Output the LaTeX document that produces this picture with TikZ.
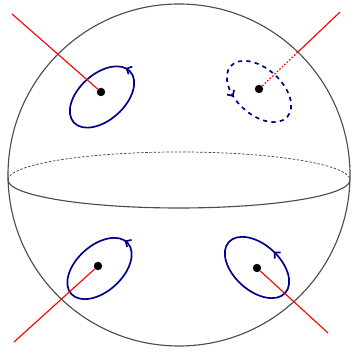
\documentclass[tikz,border=0pt]{standalone}
\usepackage{tikz}
\usetikzlibrary{arrows.meta,decorations.markings,calc}
\definecolor{loopblue}{RGB}{0,0,140}
\begin{document}
\begin{tikzpicture}[x=0.025cm, y=0.025cm,
  sphere/.style={draw=black!70, line width=0.8pt},
  backline/.style={draw=black!75, line width=0.5pt, dash pattern=on 1.8pt off 1.2pt},
  dot/.style={circle, fill=black, inner sep=0pt, minimum size=0.21cm},
  ray/.style={draw=red, line width=0.8pt},
  hiddenray/.style={ray, dash pattern=on 1.2pt off 1.2pt},
  loop/.style={color=loopblue, line width=1.2pt},
  marked/.style={postaction={decorate}, decoration={markings,
      mark=at position #1 with {\arrow{Straight Barb[length=3pt,width=6pt]}}}},
]
  \useasboundingbox (0,0) rectangle (354,352);
  %% sphere with its equator
  \coordinate (sc) at (179,177);
  \coordinate (eqw) at (8,172);
  \draw[sphere] (sc) circle [radius=171];
  \draw[backline] (eqw) arc [start angle=180, end angle=0, x radius=171, y radius=28];
  \draw[sphere] (eqw) arc [start angle=180, end angle=360, x radius=171, y radius=28];
  %% loop centres
  \coordinate (tlc) at (102,255);
  \coordinate (trc) at (259,260.5);
  \coordinate (blc) at (99.5,83.5);
  \coordinate (brc) at (257,84.5);
  %% loops
  \draw[loop, marked=0.03, rotate around={42:(tlc)}] (tlc) ellipse [x radius=38, y radius=23];
  \draw[loop, dashed, marked=0.67, rotate around={-42:(trc)}] (trc) ellipse [x radius=38, y radius=23];
  \draw[loop, marked=0.02, rotate around={42:(blc)}] (blc) ellipse [x radius=38, y radius=23];
  \draw[loop, marked=0.24, rotate around={-42:(brc)}] (brc) ellipse [x radius=38, y radius=23];
  %% punctures
  \node[dot] (tl) at (101,260) {};
  \node[dot] (tr) at (259,263) {};
  \node[dot] (bl) at (98,86) {};
  \node[dot] (br) at (257,84) {};
  %% rays out of the sphere
  \coordinate (tlend) at (12,338);
  \coordinate (trend) at (340,340);
  \coordinate (blend) at (14,10);
  \coordinate (brend) at (328,19);
  \coordinate (trexit) at ($(tr)!0.48!(trend)$);
  \draw[ray] (tlend) -- (tl);
  \draw[hiddenray] (tr) -- (trexit);
  \draw[ray] (trexit) -- (trend);
  \draw[ray] (blend) -- (bl);
  \draw[ray] (brend) -- (br);
\end{tikzpicture}
\end{document}
